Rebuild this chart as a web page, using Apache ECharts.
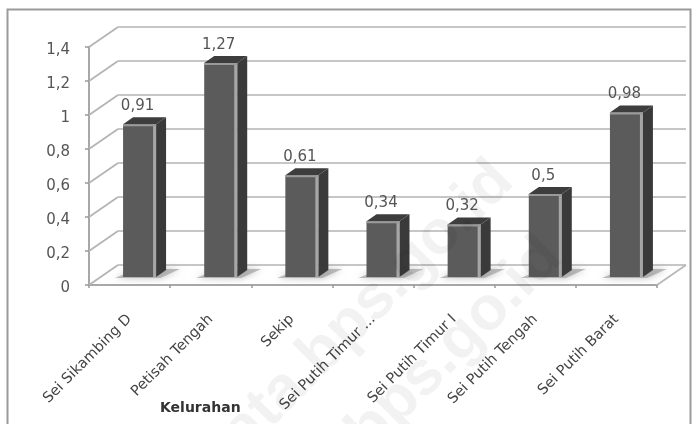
<!DOCTYPE html>
<html><head><meta charset="utf-8">
<style>html,body{margin:0;padding:0;background:#fff}#c{width:699px;height:424px;filter:blur(0.6px)}</style>
<script src="https://cdn.jsdelivr.net/npm/echarts@6/dist/echarts.min.js"></script></head>
<body><div id="c"></div>
<script>
const categories = ['Sei Sikambing D','Petisah Tengah','Sekip','Sei Putih Timur ...','Sei Putih Timur I','Sei Putih Tengah','Sei Putih Barat'];
const values = [0.91,1.27,0.61,0.34,0.32,0.5,0.98];
const valueLabels = ['0,91','1,27','0,61','0,34','0,32','0,5','0,98'];
const wallTicks = [0,0.2,0.4,0.6,0.8,1,1.2,1.4];
const axisName = 'Kelurahan';
const watermarks = ['data.bps.go.id','bps.go.id'];

const chart = echarts.init(document.getElementById('c'),null,{renderer:'canvas'});
const DX=29, DY=-20;

function poly(points,fill,z2){return {type:'polygon',shape:{points},style:{fill},z2:z2||0};}

chart.setOption({
  animation:false,
  backgroundColor:'#fff',
  title:{text:axisName,left:155,top:396,textStyle:{fontFamily:'DejaVu Sans',fontSize:14,fontWeight:'bold',color:'#333'}},
  grid:{left:89,top:47,width:568,height:238,containLabel:false},
  xAxis:{type:'category',data:categories,
    axisLine:{lineStyle:{color:'#a8a8a8',width:2}},
    axisTick:{show:true,length:3,lineStyle:{color:'#999',width:1.5}},
    axisLabel:{rotate:45,interval:0,margin:32,color:'#444',fontFamily:'DejaVu Sans',fontSize:14.5},
    splitLine:{show:false}},
  yAxis:{type:'value',min:0,max:1.4,interval:0.2,
    axisLine:{show:true,lineStyle:{color:'#a8a8a8',width:2}},
    axisTick:{show:true,length:4,lineStyle:{color:'#999',width:1.5}},
    axisLabel:{margin:19,color:'#555',fontFamily:'DejaVu Sans',fontSize:15,verticalAlign:'top',lineHeight:6,
      formatter:v=>String(+v.toFixed(1)).replace('.',',')},
    splitLine:{show:false}},
  series:[
    {type:'custom',z:1,silent:true,data:wallTicks,encode:{y:0},
     renderItem(p,api){
       const v=api.value(0), c=p.coordSys, pt=api.coord([0,v]), y=pt[1], l=c.x, r=c.x+c.width;
       const kids=[
         {type:'line',shape:{x1:l,y1:y,x2:l+DX,y2:y+DY},style:{stroke:'#b4b4b4',lineWidth:1.8}},
         {type:'line',shape:{x1:l+DX,y1:y+DY,x2:r+DX,y2:y+DY},style:{stroke:'#c6c6c6',lineWidth:2.2}}
       ];
       if(v===0) kids.push({type:'line',shape:{x1:r,y1:y,x2:r+DX,y2:y+DY},style:{stroke:'#b8b8b8',lineWidth:1.8}});
       return {type:'group',children:kids};
     }},
    {type:'custom',z:3,silent:true,data:values.map((v,i)=>[i,v,valueLabels[i]]),encode:{x:0,y:1},
     renderItem(p,api){
       const i=api.value(0), v=api.value(1);
       const base=api.coord([i,0]), top=api.coord([i,v]);
       const w=33, ox=10, dx=10, dy=-7;
       const L=base[0]-w/2+ox, R=L+w, B=base[1]-8, T=top[1]-6;
       return {type:'group',children:[
         {type:'polygon',shape:{points:[[L-8,B+1],[R+4,B+1],[R+dx+14,B-8],[R+dx,B-8],[L+4,B-4]]},
          style:{fill:'rgba(150,150,150,0.6)',shadowBlur:7,shadowColor:'rgba(130,130,130,0.9)'}},
         poly([[R,T],[R+dx,T+dy],[R+dx,B+dy],[R,B]],'#3a3a3a'),
         poly([[L,T],[L+dx,T+dy],[R+dx,T+dy],[R,T]],'#3d3d3d'),
         {type:'rect',shape:{x:L,y:T,width:w,height:B-T},style:{fill:'#5b5b5b'}},
         {type:'rect',shape:{x:R-3,y:T,width:3,height:B-T},style:{fill:'#a6a6a6'}},
         {type:'rect',shape:{x:L,y:T,width:w,height:2},style:{fill:'#9a9a9a'}},
         {type:'text',x:L+w/2-2,y:T-18,style:{text:api.value(2),fill:'#555',fontFamily:'DejaVu Sans',fontSize:15,align:'center',verticalAlign:'middle'}}
       ]};
     }}
  ],
  graphic:[
    {type:'rect',z:0,silent:true,shape:{x:7.5,y:9.5,width:683,height:430},style:{fill:'none',stroke:'#9a9a9a',lineWidth:2}},
    {type:'text',z:50,silent:true,x:355,y:320,rotation:Math.PI/4,style:{text:watermarks[0],fill:'rgba(0,0,0,0.05)',fontFamily:'Liberation Sans',fontWeight:'bold',fontSize:62,align:'center',verticalAlign:'middle'}},
    {type:'text',z:50,silent:true,x:455,y:345,rotation:Math.PI/4,style:{text:watermarks[1],fill:'rgba(0,0,0,0.05)',fontFamily:'Liberation Sans',fontWeight:'bold',fontSize:62,align:'center',verticalAlign:'middle'}}
  ]
});
</script></body></html>
